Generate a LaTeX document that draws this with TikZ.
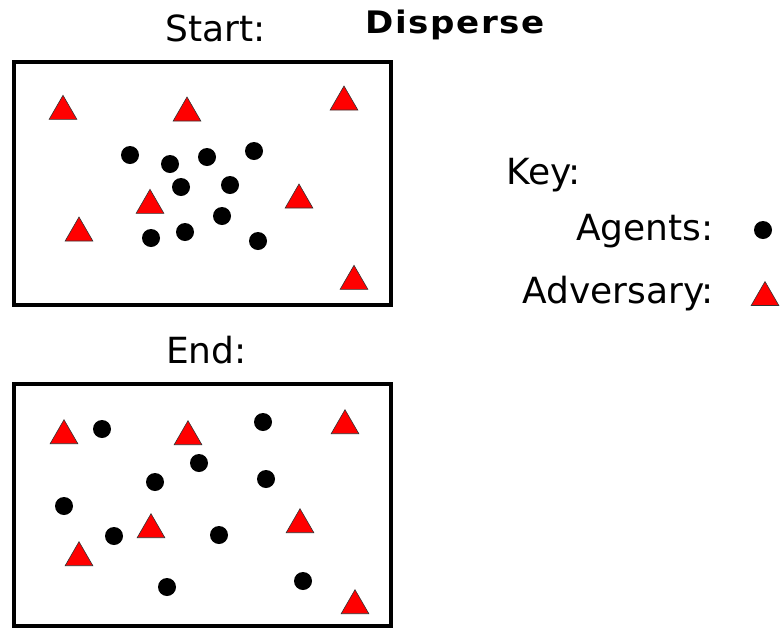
\documentclass[tikz,border=0pt]{standalone}
\usepackage{fontspec}
\setmainfont{DejaVu Sans}
\usetikzlibrary{shapes.geometric}
% slight extra tracking for the bold heading
\newcommand\trk{\kern1.5pt}
\tikzset{
  label text/.style={font=\fontsize{36}{42}\selectfont, inner sep=0pt},
  title text/.style={font=\fontsize{31}{36}\selectfont\bfseries, inner sep=0pt, xscale=1.1},
  arena/.style={draw=black, line width=4pt},
  agent/.style={circle, fill=black, inner sep=0pt, minimum size=18pt},
  adversary/.style={regular polygon, regular polygon sides=3, fill=red,
    draw=black!80, line width=0.6pt, inner sep=0pt, minimum size=32pt}
}
\begin{document}
\begin{tikzpicture}[x=1pt, y=-1pt]
\useasboundingbox (0,0) rectangle (783,630);

% titles
\node[title text, anchor=base west] (title) at (365,33)
  {D\trk i\trk s\trk p\trk e\trk r\trk s\trk e};
\node[label text, anchor=base west] (start) at (165,41) {Start:};
\node[label text, anchor=base west] (end) at (166,363) {End:};

% arenas
\draw[arena] (14,62) rectangle (391,305);
\draw[arena] (14,384) rectangle (391,626);

% start configuration: adversaries
\node[adversary] (sa1) at (63,111.3) {};
\node[adversary] (sa2) at (187,113) {};
\node[adversary] (sa3) at (344,102) {};
\node[adversary] (sa4) at (150,205.3) {};
\node[adversary] (sa5) at (299,200) {};
\node[adversary] (sa6) at (79,233) {};
\node[adversary] (sa7) at (354,281.3) {};
% start configuration: agents clustered in the middle
\node[agent] (sg1) at (130,155) {};
\node[agent] (sg2) at (170,164) {};
\node[agent] (sg3) at (207,157) {};
\node[agent] (sg4) at (254,151) {};
\node[agent] (sg5) at (181,187) {};
\node[agent] (sg6) at (230,185) {};
\node[agent] (sg7) at (222,216) {};
\node[agent] (sg8) at (151,238) {};
\node[agent] (sg9) at (185,232) {};
\node[agent] (sg10) at (258,241) {};

% end configuration: adversaries
\node[adversary] (ea1) at (64,435.7) {};
\node[adversary] (ea2) at (188,436.7) {};
\node[adversary] (ea3) at (345,425.7) {};
\node[adversary] (ea4) at (151,529.7) {};
\node[adversary] (ea5) at (300,524.7) {};
\node[adversary] (ea6) at (79,557.7) {};
\node[adversary] (ea7) at (355,605.7) {};
% end configuration: agents spread out
\node[agent] (eg1) at (102,429) {};
\node[agent] (eg2) at (263,422) {};
\node[agent] (eg3) at (199,463) {};
\node[agent] (eg4) at (155,482) {};
\node[agent] (eg5) at (266,479) {};
\node[agent] (eg6) at (64,506) {};
\node[agent] (eg7) at (114,536) {};
\node[agent] (eg8) at (219,535) {};
\node[agent] (eg9) at (167,587) {};
\node[agent] (eg10) at (303,581) {};

% key
\node[label text, anchor=base west] (key) at (506,184) {Key:};
\node[label text, anchor=base east] (agentslbl) at (714,240) {Agents:};
\node[label text, anchor=base east] (advlbl) at (714,303) {Adversary:};
\node[agent] (keyagent) at (763,230) {};
\node[adversary] (keyadv) at (765,297.5) {};
\end{tikzpicture}
\end{document}
